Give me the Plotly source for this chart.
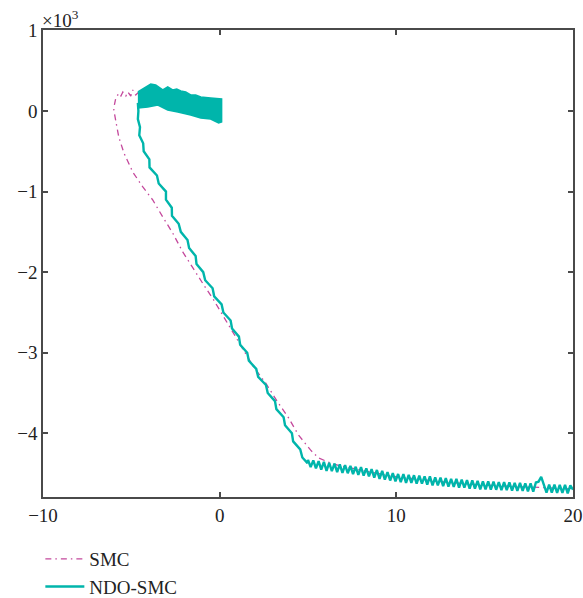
import plotly.graph_objects as go

# ---------------- data (values in units of 10^3) ----------------
# SMC trajectory: noisy top part, then descending branch, then tail
smc_x = [0.06, -0.06, -0.23, -0.40, -0.68, -0.90, -1.24, -1.47, -1.75, -1.98,
         -2.20, -2.43, -2.66, -2.88, -3.05, -3.33, -3.62, -3.90, -4.12, -4.35,
         -4.58, -4.75, -4.92, -5.03, -5.20, -5.31, -5.48, -5.59, -5.71, -5.88,
         -5.99, -5.99, -5.85, -5.71, -5.42, -4.92, -4.35, -3.79, -3.22, -2.66,
         -2.09, -1.53, -0.90, -0.34, 0.45, 1.02, 1.92, 2.60, 3.28, 3.90,
         4.46, 5.14, 5.59, 6.27, 6.84, 9.66, 12.49, 14.75, 17.01, 20.0]
smc_y = [-0.012, -0.136, -0.012, -0.112, 0.012, -0.074, 0.062, -0.025, 0.087, 0.012,
         0.112, 0.037, 0.136, 0.050, 0.161, 0.100, 0.186, 0.124, 0.174, 0.136,
         0.236, 0.199, 0.261, 0.186, 0.236, 0.186, 0.236, 0.186, 0.22, 0.16,
         0.04, 0.012, -0.16, -0.323, -0.521, -0.757, -0.943, -1.104, -1.315, -1.514,
         -1.749, -1.948, -2.159, -2.345, -2.630, -2.841, -3.176, -3.375, -3.611, -3.809,
         -4.020, -4.206, -4.305, -4.367, -4.404, -4.53, -4.60, -4.64, -4.665, -4.69]

# NDO-SMC dense oscillation band near the origin (outline: upper edge, then lower edge)
band_x = [-4.63, -4.29, -3.90, -3.62, -3.22, -2.94, -2.66, -2.43, -2.20, -1.92,
          -1.64, -1.36, -1.07, -0.51, 0.11,
          0.11, -0.06, -0.51, -1.07, -1.64, -2.09, -2.37, -2.94, -3.50, -4.07, -4.63]
band_y = [0.236, 0.285, 0.335, 0.323, 0.261, 0.298, 0.261, 0.273, 0.248, 0.236,
          0.199, 0.199, 0.174, 0.161, 0.149,
          -0.136, -0.149, -0.099, -0.087, -0.050, -0.025, -0.012, 0.012, 0.074, 0.050, 0.037]

# NDO-SMC descending branch and chattering tail
ndo_x = [-4.63, -4.60, -4.63, -4.51, -4.55, -4.33, -4.30, -3.98, -3.97, -3.55, -3.45,
         -3.04, -3.04, -2.71, -2.70, -2.32, -2.20, -1.82, -1.73, -1.36, -1.31,
         -0.93, -0.82, -0.40, -0.31, 0.11, 0.21, 0.62, 0.70, 1.09, 1.16,
         1.56, 1.65, 2.07, 2.18, 2.62, 2.72, 3.13, 3.21, 3.62, 3.70,
         4.09, 4.16, 4.56, 4.68, 4.97,
         5.00, 5.15, 5.30, 5.45, 5.60, 5.75, 5.90, 6.05, 6.20, 6.35,
         6.50, 6.65, 6.80, 6.95, 7.10, 7.25, 7.40, 7.55, 7.70, 7.85,
         8.00, 8.15, 8.30, 8.45, 8.60, 8.75, 8.90, 9.05, 9.20, 9.35,
         9.50, 9.65, 9.80, 9.95, 10.10, 10.25, 10.40, 10.55, 10.70, 10.85,
         11.00, 11.15, 11.30, 11.45, 11.60, 11.75, 11.90, 12.05, 12.20, 12.35,
         12.50, 12.65, 12.80, 12.95, 13.10, 13.25, 13.40, 13.55, 13.70, 13.85,
         14.00, 14.15, 14.30, 14.45, 14.60, 14.75, 14.90, 15.05, 15.20, 15.35,
         15.50, 15.65, 15.80, 15.95, 16.10, 16.25, 16.40, 16.55, 16.70, 16.85,
         17.00, 17.15, 17.30, 17.45, 17.60, 17.75, 17.90, 18.05, 18.20, 18.35,
         18.50, 18.65, 18.80, 18.95, 19.10, 19.25, 19.40, 19.55, 19.70, 19.85, 20.00]
ndo_y = [0.10, 0.00, -0.10, -0.20, -0.30, -0.40, -0.50, -0.60, -0.70, -0.80, -0.90,
         -1.00, -1.10, -1.20, -1.30, -1.40, -1.50, -1.60, -1.70, -1.80, -1.90,
         -2.00, -2.10, -2.20, -2.30, -2.40, -2.50, -2.60, -2.70, -2.80, -2.90,
         -3.00, -3.10, -3.20, -3.30, -3.40, -3.50, -3.60, -3.70, -3.80, -3.90,
         -4.00, -4.10, -4.20, -4.30, -4.37,
         -4.33, -4.42, -4.335, -4.435, -4.345, -4.45, -4.355, -4.465, -4.365, -4.47,
         -4.375, -4.48, -4.385, -4.49, -4.395, -4.495, -4.405, -4.505, -4.415, -4.515,
         -4.42, -4.525, -4.435, -4.535, -4.445, -4.55, -4.455, -4.565, -4.465, -4.575,
         -4.48, -4.585, -4.495, -4.595, -4.505, -4.605, -4.505, -4.615, -4.515, -4.615,
         -4.52, -4.625, -4.525, -4.625, -4.535, -4.635, -4.535, -4.645, -4.545, -4.645,
         -4.55, -4.655, -4.555, -4.66, -4.565, -4.665, -4.565, -4.675, -4.575, -4.675,
         -4.58, -4.685, -4.585, -4.685, -4.59, -4.695, -4.595, -4.695, -4.595, -4.70,
         -4.60, -4.70, -4.605, -4.705, -4.605, -4.705, -4.61, -4.71, -4.615, -4.715,
         -4.615, -4.715, -4.62, -4.72, -4.62, -4.725, -4.61, -4.60, -4.54, -4.64,
         -4.735, -4.635, -4.735, -4.635, -4.74, -4.64, -4.74, -4.64, -4.745, -4.645, -4.70]

x_ticks = [-10, 0, 10, 20]
x_labels = ["\u221210", "0", "10", "20"]
y_ticks = [1, 0, -1, -2, -3, -4]
y_labels = ["1", "0", "\u22121", "\u22122", "\u22123", "\u22124"]

series_names = ["SMC", "NDO-SMC"]

# ---------------- styling ----------------
MAG = "#C4489C"
TEAL = "#00B5AB"
FONT = "Liberation Serif"

fig = go.Figure()

fig.add_trace(go.Scatter(
    x=smc_x, y=smc_y, mode="lines", name=series_names[0],
    line=dict(color=MAG, width=1.3, dash="6px,4px,1.5px,4px"),
    legendgroup="a"))

fig.add_trace(go.Scatter(
    x=band_x, y=band_y, mode="lines", fill="toself", fillcolor=TEAL,
    line=dict(color=TEAL, width=1.5), showlegend=False, legendgroup="b"))

fig.add_trace(go.Scatter(
    x=ndo_x, y=ndo_y, mode="lines", name=series_names[1],
    line=dict(color=TEAL, width=2.4), legendgroup="b"))

axis_common = dict(
    showgrid=False, zeroline=False, showline=True, linecolor="#4a4a4a",
    linewidth=1.6, mirror="ticks", ticks="inside", ticklen=5, tickwidth=1.5,
    tickcolor="#4a4a4a", tickfont=dict(family=FONT, size=19, color="#222"))

fig.update_xaxes(range=[-10, 20], tickvals=x_ticks, ticktext=x_labels, **axis_common)
fig.update_yaxes(range=[-4.79, 1.005], tickvals=y_ticks, ticktext=y_labels, **axis_common)

fig.add_annotation(
    text="\u00d710<sup>3</sup>", xref="paper", yref="paper", x=0, y=1.0,
    xanchor="left", yanchor="bottom", showarrow=False, xshift=-3, yshift=-3,
    font=dict(family=FONT, size=19, color="#222"))

fig.update_layout(
    width=583, height=598,
    margin=dict(l=43, r=10, t=30, b=101, autoexpand=False),
    paper_bgcolor="white", plot_bgcolor="white",
    showlegend=True,
    legend=dict(x=-0.005, y=-0.092, xanchor="left", yanchor="top",
                orientation="v", tracegroupgap=0, itemwidth=39,
                font=dict(family=FONT, size=19, color="#222"),
                bgcolor="rgba(0,0,0,0)"),
)

fig.write_html("out.html")
